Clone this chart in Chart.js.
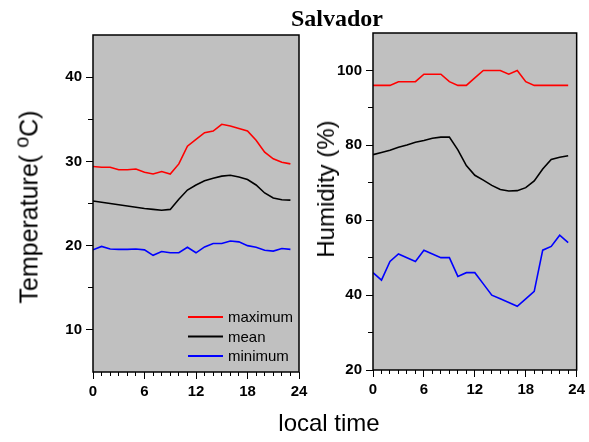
<!DOCTYPE html>
<html>
<head>
<meta charset="utf-8">
<title>Salvador</title>
<script src="https://cdn.jsdelivr.net/npm/chart.js@4.4.1/dist/chart.umd.min.js"></script>
<style>
    body { margin: 0; background: #fff; }
    #fig { position: relative; width: 589px; height: 442px; font-family: 'Liberation Sans', Arial, sans-serif; }
    #fig canvas { position: absolute; left: 0; top: 0; }
    .txt { position: absolute; white-space: nowrap; line-height: 1; color: #000; }
    .rot { transform: translate(-50%, -50%) rotate(-90deg); }
    sup { font-size: 0.8em; vertical-align: 0.45em; line-height: 0; }
</style>
</head>
<body>
<div id="fig">
    <canvas id="tempChart" width="589" height="442"></canvas>
    <canvas id="humChart" width="589" height="442"></canvas>
    <div class="txt" style="left:337px; top:5px; transform:translateX(-50%); font:bold 24px 'Liberation Serif', 'Times New Roman', serif;">Salvador</div>
    <div class="txt rot" style="left:29px; top:207px; font-size:25px;">Temperature( <sup>o</sup>C)</div>
    <div class="txt rot" style="left:326px; top:189px; font-size:24px;">Humidity (%)</div>
    <div class="txt" style="left:329px; top:411px; transform:translateX(-50%); font-size:24px;">local time</div>
</div>

<script>
// Heure locale (0 à 23 h)
const hours = [0, 1, 2, 3, 4, 5, 6, 7, 8, 9, 10, 11, 12, 13, 14, 15, 16, 17, 18, 19, 20, 21, 22, 23];

// Température (°C)
const tempMax  = [29.4, 29.3, 29.3, 29.0, 29.0, 29.1, 28.7, 28.5, 28.8, 28.5, 29.7, 31.8, 32.6, 33.4, 33.6, 34.4, 34.2, 33.9, 33.6, 32.5, 31.1, 30.3, 29.9, 29.7];
const tempMean = [25.3, 25.15, 25.0, 24.85, 24.7, 24.55, 24.4, 24.3, 24.2, 24.3, 25.5, 26.6, 27.2, 27.7, 28.0, 28.25, 28.35, 28.15, 27.85, 27.2, 26.25, 25.65, 25.45, 25.4];
const tempMin  = [19.5, 19.9, 19.6, 19.55, 19.55, 19.6, 19.5, 18.85, 19.3, 19.15, 19.15, 19.8, 19.15, 19.85, 20.25, 20.25, 20.55, 20.45, 20.0, 19.8, 19.45, 19.35, 19.65, 19.55];

// Humidité relative (%)
const humMax  = [96, 96, 96, 97, 97, 97, 99, 99, 99, 97, 96, 96, 98, 100, 100, 100, 99, 100, 97, 96, 96, 96, 96, 96];
const humMean = [77.5, 78.1, 78.7, 79.5, 80.1, 80.8, 81.3, 81.9, 82.2, 82.2, 78.8, 74.6, 72.0, 70.7, 69.3, 68.2, 67.8, 67.9, 68.7, 70.5, 73.7, 76.2, 76.8, 77.2];
const humMin  = [46, 44, 49, 51, 50, 49, 52, 51, 50, 50, 45, 46, 46, 43, 40, 39, 38, 37, 39, 41, 52, 53, 56, 54];

// Graduations
const hourTicks      = [0, 6, 12, 18, 24];
const hourMinorTicks = [1, 2, 3, 4, 5, 7, 8, 9, 10, 11, 13, 14, 15, 16, 17, 19, 20, 21, 22, 23];
const tempTicks      = [10, 20, 30, 40];
const tempMinorTicks = [15, 25, 35];
const humTicks       = [20, 40, 60, 80, 100];
const humMinorTicks  = [30, 50, 70, 90];

const seriesNames  = ['maximum', 'mean', 'minimum'];
const seriesColors = ['#ff0000', '#000000', '#0000ff'];

const tickFont = { family: "'Liberation Sans', Arial, sans-serif", size: 15, weight: 'bold' };

// Fond gris et cadre noir autour de la zone de tracé
const framePlugin = {
    id: 'frame',
    beforeDraw(chart) {
        const { ctx, chartArea: a } = chart;
        ctx.save();
        ctx.fillStyle = '#c0c0c0';
        ctx.fillRect(a.left, a.top, a.right - a.left, a.bottom - a.top);
        ctx.restore();
    },
    afterDraw(chart) {
        const { ctx, chartArea: a } = chart;
        ctx.save();
        ctx.strokeStyle = '#000';
        ctx.lineWidth = 1.5;
        ctx.strokeRect(a.left, a.top, a.right - a.left, a.bottom - a.top);
        ctx.restore();
    }
};

// Légende dessinée dans le coin bas droit du premier graphique
const insideLegend = {
    id: 'insideLegend',
    afterDraw(chart) {
        const ctx = chart.ctx;
        ctx.save();
        ctx.font = "15px 'Liberation Sans', Arial, sans-serif";
        ctx.textBaseline = 'middle';
        ctx.fillStyle = '#000';
        chart.data.datasets.forEach((ds, i) => {
            const y = 317 + i * 19.5;
            ctx.strokeStyle = ds.borderColor;
            ctx.lineWidth = 2;
            ctx.beginPath();
            ctx.moveTo(188, y);
            ctx.lineTo(223, y);
            ctx.stroke();
            ctx.fillText(ds.label, 228, y + 1);
        });
        ctx.restore();
    }
};

function toPoints(values) {
    return values.map((v, i) => ({ x: hours[i], y: v }));
}

function fixedTicks(list) {
    return scale => { scale.ticks = list.map(v => ({ value: v })); };
}

function buildScales(yMin, yMax, yTicks, yMinorTicks, yWidth) {
    return {
        x: {
            type: 'linear', min: 0, max: 24, weight: 1,
            afterBuildTicks: fixedTicks(hourTicks),
            afterFit: s => { s.height = 30; },
            grid: { drawOnChartArea: false, tickLength: 7, tickColor: '#000', tickWidth: 1 },
            border: { display: false },
            ticks: { font: tickFont, color: '#000', padding: 4, maxRotation: 0, autoSkip: false }
        },
        xMinor: {
            type: 'linear', axis: 'x', position: 'bottom', min: 0, max: 24, weight: 0,
            afterBuildTicks: fixedTicks(hourMinorTicks),
            afterFit: s => { s.height = 0; },
            grid: { drawOnChartArea: false, tickLength: 4, tickColor: '#000', tickWidth: 1 },
            border: { display: false },
            ticks: { display: false }
        },
        y: {
            type: 'linear', min: yMin, max: yMax, weight: 1,
            afterBuildTicks: fixedTicks(yTicks),
            afterFit: s => { s.width = yWidth; },
            grid: { drawOnChartArea: false, tickLength: 7, tickColor: '#000', tickWidth: 1 },
            border: { display: false },
            ticks: { font: tickFont, color: '#000', padding: 4 }
        },
        yMinor: {
            type: 'linear', axis: 'y', position: 'left', min: yMin, max: yMax, weight: 0,
            afterBuildTicks: fixedTicks(yMinorTicks),
            afterFit: s => { s.width = 0; },
            grid: { drawOnChartArea: false, tickLength: 5, tickColor: '#000', tickWidth: 1 },
            border: { display: false },
            ticks: { display: false }
        }
    };
}

function drawPanel(canvasId, series, scales, padding, plugins) {
    const ctx = document.getElementById(canvasId).getContext('2d');
    return new Chart(ctx, {
        type: 'line',
        data: {
            datasets: series.map((values, i) => ({
                label: seriesNames[i],
                data: toPoints(values),
                borderColor: seriesColors[i],
                borderWidth: 1.6,
                pointRadius: 0,
                tension: 0
            }))
        },
        options: {
            responsive: false,
            animation: false,
            devicePixelRatio: 1,
            layout: { padding: padding },
            plugins: { legend: { display: false }, tooltip: { enabled: false } },
            scales: scales
        },
        plugins: plugins
    });
}

// Panneau de gauche : température
drawPanel('tempChart',
    [tempMax, tempMean, tempMin],
    buildScales(5, 45, tempTicks, tempMinorTicks, 93),
    { left: 0, right: 290, top: 35, bottom: 40 },
    [framePlugin, insideLegend]);

// Panneau de droite : humidité
drawPanel('humChart',
    [humMax, humMean, humMin],
    buildScales(20, 110, humTicks, humMinorTicks, 60),
    { left: 313, right: 10, top: 33, bottom: 42 },
    [framePlugin]);
</script>
</body>
</html>
